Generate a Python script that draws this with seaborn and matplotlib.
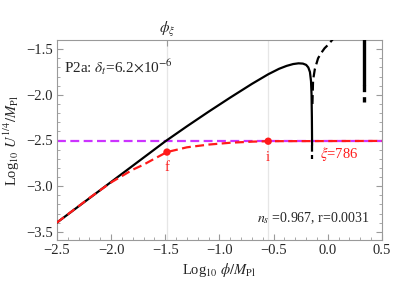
import numpy as np
import pandas as pd
import seaborn as sns
import matplotlib as mpl
import matplotlib.pyplot as plt
from matplotlib.ticker import MultipleLocator, FuncFormatter

# ------------------------------
# Data
# ------------------------------
# main potential branch (solid black)
black_x = [-2.5, -2.0, -1.5, -1.3, -1.1, -0.9, -0.7, -0.55, -0.45, -0.38, -0.32,
           -0.27, -0.23, -0.2, -0.18, -0.165, -0.155, -0.15, -0.147, -0.145]
black_y = [-3.40, -2.955, -2.51, -2.345, -2.185, -2.03, -1.88, -1.775, -1.715, -1.683,
           -1.663, -1.655, -1.658, -1.672, -1.70, -1.75, -1.85, -2.0, -2.25, -2.55]

# tail of the dip below the plateau (dashed black)
dip_x = [-0.145, -0.145]
dip_y = [-2.55, -2.70]

# negative-potential branch (dashed black)
neg_x = [-0.142, -0.136, -0.12, -0.09, -0.06, -0.03, 0.0, 0.04, 0.06]
neg_y = [-2.10, -1.84, -1.72, -1.60, -1.54, -1.49, -1.455, -1.40, -1.37]

# right spike
spike_x = [0.335, 0.335]
spike_solid_y = [-1.38, -1.89]
spike_dash_y = [-1.89, -2.08]

# effective potential (dashed red)
red_x = [-2.5, -2.2, -2.0, -1.9, -1.8, -1.7, -1.6, -1.484, -1.3, -1.1, -0.9, -0.7, -0.55, 0.5]
red_y = [-3.40, -3.13, -2.96, -2.89, -2.82, -2.765, -2.70, -2.627, -2.575, -2.545, -2.525,
         -2.513, -2.508, -2.505]

plateau_y = -2.51

# marked points f and i
pts_label = ['f', 'i']
pts_x = [-1.484, -0.55]
pts_y = [-2.627, -2.508]

phi_xi = -1.484

sns.set_style('white')
mpl.rcParams['font.family'] = 'Liberation Serif'
mpl.rcParams['mathtext.fontset'] = 'stix'

fig = plt.figure(figsize=(4.09, 2.82), dpi=100)
ax = fig.add_axes([0.139, 0.149, 0.795, 0.709])

frame_col = '#9a9a9a'
red = '#ff1a1a'

# gridlines through f and i
for gx in pts_x:
    ax.axvline(gx, color='#e6e6e6', lw=0.9, zorder=0)

sns.lineplot(x=black_x, y=black_y, ax=ax, color='black', lw=1.6, sort=False,
             estimator=None, zorder=3)
ax.plot(dip_x, dip_y, color='black', lw=1.6, ls=(0, (3, 1.5)), zorder=3)
ax.plot(neg_x, neg_y, color='black', lw=1.6, ls=(0, (4, 2)), zorder=3)
ax.plot(spike_x, spike_solid_y, color='black', lw=2.4, zorder=3)
ax.plot(spike_x, spike_dash_y, color='black', lw=2.4, ls=(0, (2, 1.5)), zorder=3)

ax.axhline(plateau_y, color='#cc33ff', lw=1.6, ls=(0, (4, 2)), zorder=2)
sns.lineplot(x=red_x, y=red_y, ax=ax, color=red, lw=1.6, sort=False,
             estimator=None, zorder=4)
ax.lines[-1].set_linestyle((0, (4, 2)))

sns.scatterplot(x=pts_x, y=pts_y, ax=ax, color=red, s=28, edgecolor='none', zorder=5)
ax.text(pts_x[0], -2.73, pts_label[0], color=red, fontsize=10.5, ha='center', va='top')
ax.text(pts_x[1], -2.61, pts_label[1], color=red, fontsize=10.5, ha='center', va='top')

ax.text(-0.07, -2.645, r'$\xi$=786', color=red, fontsize=10.5, ha='left', va='center')
ax.text(-2.43, -1.70, r'P2a: $\delta_t$=6.2$\times$10$^{-6}$', fontsize=11,
        ha='left', va='center')
ax.text(0.39, -3.35, r'$n_s$ =0.967, r=0.0031', fontsize=10, ha='right', va='center')

ax.set_xlim(-2.5, 0.5)
ax.set_ylim(-3.59, -1.40)
ax.xaxis.set_major_locator(MultipleLocator(0.5))
ax.xaxis.set_minor_locator(MultipleLocator(0.1))
ax.yaxis.set_major_locator(MultipleLocator(0.5))
ax.yaxis.set_minor_locator(MultipleLocator(0.1))
fmt = FuncFormatter(lambda v, p: f'{v:.1f}'.replace('-', '\u2212'))
ax.xaxis.set_major_formatter(fmt)
ax.yaxis.set_major_formatter(fmt)

ax.tick_params(which='both', direction='in', color=frame_col, labelsize=10.5,
               left=True, right=True, bottom=True, top=False, pad=3)
ax.tick_params(which='major', length=4, width=0.8)
ax.tick_params(which='minor', length=2, width=0.6)

for _, spine in ax.spines.items():
    spine.set_visible(True)
    spine.set_color(frame_col)
    spine.set_linewidth(0.8)

secax = ax.secondary_xaxis('top')
secax.set_xticks([phi_xi], labels=[r'$\phi_\xi$'])
secax.tick_params(direction='in', color=frame_col, length=4, labelsize=11, pad=1)
secax.spines['top'].set_visible(False)

ax.set_xlabel(r'Log$_{10}$ $\phi/M_{\rm Pl}$', fontsize=10.5, labelpad=3)
ax.set_ylabel(r'Log$_{10}$ $U^{1/4}/M_{\rm Pl}$', fontsize=10.5, labelpad=3)

plt.savefig('out.png', dpi=100)
